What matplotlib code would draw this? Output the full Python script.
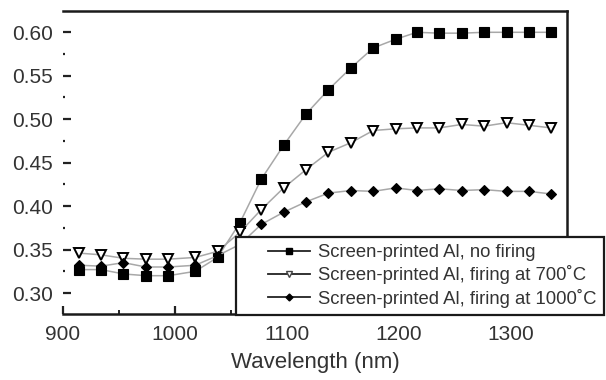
import matplotlib
matplotlib.use("Agg")
import matplotlib.pyplot as plt
from matplotlib.lines import Line2D
from matplotlib.legend_handler import HandlerLine2D
from matplotlib.ticker import FixedLocator

plt.rcParams['font.family'] = ['Liberation Sans', 'DejaVu Sans']

# Reflectance spectra of screen-printed Al layers
wavelength = [914, 934, 954, 974, 994, 1018, 1038, 1058, 1077, 1097, 1117,
              1137, 1157, 1177, 1197, 1216, 1236, 1256, 1276, 1296, 1316, 1336]
no_firing = [0.327, 0.327, 0.322, 0.320, 0.320, 0.325, 0.341, 0.381, 0.431,
             0.470, 0.506, 0.534, 0.559, 0.582, 0.592, 0.600, 0.599, 0.599,
             0.600, 0.600, 0.600, 0.600]
firing_700 = [0.346, 0.344, 0.340, 0.339, 0.339, 0.341, 0.348, 0.370, 0.396,
              0.421, 0.442, 0.462, 0.473, 0.487, 0.489, 0.490, 0.490, 0.494,
              0.492, 0.496, 0.493, 0.490]
firing_1000 = [0.332, 0.331, 0.335, 0.330, 0.330, 0.332, 0.343, 0.356, 0.379,
               0.393, 0.405, 0.415, 0.418, 0.417, 0.421, 0.418, 0.420, 0.418,
               0.419, 0.417, 0.417, 0.414]

labels = ["Screen-printed Al, no firing",
          "Screen-printed Al, firing at 700\u02daC",
          "Screen-printed Al, firing at 1000\u02daC"]
x_ticks = [900, 1000, 1100, 1200, 1300]
x_minor = [950, 1050, 1150, 1250]
y_ticks = [0.30, 0.35, 0.40, 0.45, 0.50, 0.55, 0.60]
y_minor = [0.325, 0.375, 0.425, 0.475, 0.525, 0.575]

W, H = 606, 380
fig = plt.figure(figsize=(W / 100, H / 100), dpi=100)
ax = fig.add_axes([63 / W, 1 - 313.5 / H, (567 - 63) / W, (313.5 - 11) / H])

line_col = '#a8a8a8'
styles = [
    dict(marker='s', ms=6.5, mfc='black', mec='black', mew=0.8),
    dict(marker='v', ms=7, mfc='white', mec='black', mew=1.4),
    dict(marker='D', ms=5, mfc='black', mec='black', mew=0.8),
]
for ys, st in zip([no_firing, firing_700, firing_1000], styles):
    ax.plot(wavelength, ys, color=line_col, lw=1.1, zorder=2, **st)

ax.set_xlim(900, 1350)
ax.set_ylim(0.2765, 0.6245)
ax.set_xticks(x_ticks)
ax.set_yticks(y_ticks)
ax.set_yticklabels([f"{v:.2f}" for v in y_ticks])
ax.xaxis.set_minor_locator(FixedLocator(x_minor))
ax.yaxis.set_minor_locator(FixedLocator(y_minor))

text_col = '#333333'
ax.tick_params(axis='both', which='major', direction='in', labelsize=15,
               labelcolor=text_col, width=1.6, length=6, color='#222222')
ax.tick_params(axis='x', which='major', pad=8)
ax.tick_params(axis='y', which='major', pad=7)
ax.tick_params(axis='x', which='minor', direction='in', width=1.4,
               length=3, color='#222222')
ax.tick_params(axis='y', which='minor', direction='in', width=1.6,
               length=1.6, color='#222222', pad=0)
ax.tick_params(top=False, right=False, which='both')

for side in ['top', 'right', 'bottom']:
    ax.spines[side].set_linewidth(1.8)
    ax.spines[side].set_color('#1a1a1a')
ax.spines['left'].set_visible(False)

ax.set_xlabel("Wavelength (nm)", fontsize=16, color=text_col, labelpad=6)


class InsetLineHandler(HandlerLine2D):
    """Draws the legend sample with a blank margin on its left."""

    def __init__(self, inset, **kw):
        super().__init__(**kw)
        self.inset = inset

    def get_xdata(self, legend, xdescent, ydescent, width, height, fontsize):
        x0 = -xdescent + self.inset
        x1 = -xdescent + width
        return [x0, x1], [(x0 + x1) / 2]


handles = [
    Line2D([], [], color='#222222', lw=1.3, marker='s', ms=5, mfc='black', mec='black'),
    Line2D([], [], color='#222222', lw=1.3, marker='v', ms=5, mfc='white', mec='#444444', mew=1),
    Line2D([], [], color='#222222', lw=1.3, marker='D', ms=3.5, mfc='black', mec='black'),
]
hm = {h: InsetLineHandler(18) for h in handles}
leg = fig.legend(handles, labels, loc='upper left',
                 bbox_to_anchor=(236 / W, 1 - 237 / H), bbox_transform=fig.transFigure,
                 fontsize=13.3, frameon=True, fancybox=False, borderpad=0.4,
                 handlelength=3.6, handletextpad=0.45, labelspacing=0.22,
                 borderaxespad=0, handler_map=hm, labelcolor=text_col)
leg.get_frame().set_edgecolor('#1a1a1a')
leg.get_frame().set_linewidth(1.6)
leg.get_frame().set_alpha(1)
leg.set_zorder(5)

fig.savefig("out.png", dpi=100)
